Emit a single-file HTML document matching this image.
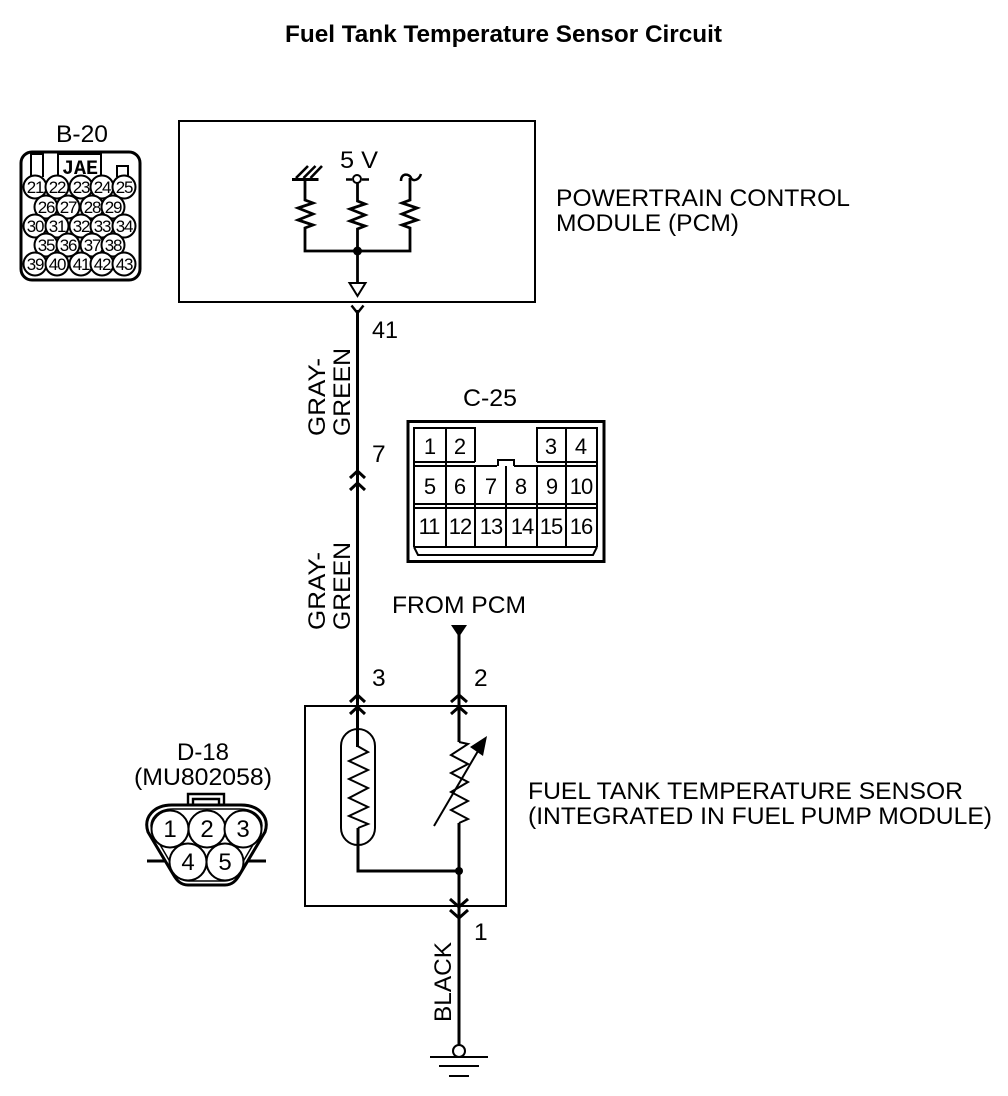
<!DOCTYPE html>
<html><head><meta charset="utf-8"><style>
html,body{margin:0;padding:0;background:#fff}
svg{display:block}
text{font-family:"Liberation Sans",sans-serif;fill:#000}
.t{font-size:24.5px}
.n{font-size:22px;text-anchor:middle}
.s{font-size:17px;text-anchor:middle;letter-spacing:-1.2px}
.l{fill:none;stroke:#000;stroke-width:2}
.w{fill:none;stroke:#000;stroke-width:3}
</style></head><body>
<svg width="1008" height="1096" viewBox="0 0 1008 1096" xmlns="http://www.w3.org/2000/svg">
<text x="285" y="42" font-size="24" font-weight="bold" textLength="437" lengthAdjust="spacingAndGlyphs">Fuel Tank Temperature Sensor Circuit</text>

<!-- B-20 -->
<text x="82" y="142" class="t" text-anchor="middle" textLength="52" lengthAdjust="spacingAndGlyphs">B-20</text>
<rect x="21" y="152" width="119" height="128" rx="11" class="w"/>
<path d="M31 177V154H43V177M58 177V154H101V177M117 177V166H128V177" class="l"/>
<text x="80" y="174" font-weight="bold" font-size="20" text-anchor="middle" style="font-family:'Liberation Mono',monospace">JAE</text>
<g fill="#fff" stroke="#000" stroke-width="2">
<circle cx="35" cy="187" r="11.500"/><circle cx="57" cy="187" r="11.500"/><circle cx="81" cy="187" r="11.500"/><circle cx="102" cy="187" r="11.500"/><circle cx="124" cy="187" r="11.500"/>
<circle cx="46" cy="207" r="11.500"/><circle cx="68" cy="207" r="11.500"/><circle cx="92" cy="207" r="11.500"/><circle cx="113" cy="207" r="11.500"/>
<circle cx="35" cy="226" r="11.500"/><circle cx="57" cy="226" r="11.500"/><circle cx="81" cy="226" r="11.500"/><circle cx="102" cy="226" r="11.500"/><circle cx="124" cy="226" r="11.500"/>
<circle cx="46" cy="245" r="11.500"/><circle cx="68" cy="245" r="11.500"/><circle cx="92" cy="245" r="11.500"/><circle cx="113" cy="245" r="11.500"/>
<circle cx="35" cy="264" r="11.500"/><circle cx="57" cy="264" r="11.500"/><circle cx="81" cy="264" r="11.500"/><circle cx="102" cy="264" r="11.500"/><circle cx="124" cy="264" r="11.500"/>
</g>
<g>
<text class="s" x="35" y="193">21</text><text class="s" x="57" y="193">22</text><text class="s" x="81" y="193">23</text><text class="s" x="102" y="193">24</text><text class="s" x="124" y="193">25</text>
<text class="s" x="46" y="213">26</text><text class="s" x="68" y="213">27</text><text class="s" x="92" y="213">28</text><text class="s" x="113" y="213">29</text>
<text class="s" x="35" y="232">30</text><text class="s" x="57" y="232">31</text><text class="s" x="81" y="232">32</text><text class="s" x="102" y="232">33</text><text class="s" x="124" y="232">34</text>
<text class="s" x="46" y="251">35</text><text class="s" x="68" y="251">36</text><text class="s" x="92" y="251">37</text><text class="s" x="113" y="251">38</text>
<text class="s" x="35" y="270">39</text><text class="s" x="57" y="270">40</text><text class="s" x="81" y="270">41</text><text class="s" x="102" y="270">42</text><text class="s" x="124" y="270">43</text>
</g>

<!-- PCM -->
<rect x="179" y="121" width="356" height="181" class="l"/>
<text x="340" y="168" class="t" textLength="38" lengthAdjust="spacingAndGlyphs">5 V</text>
<text x="556" y="206" class="t" textLength="294" lengthAdjust="spacingAndGlyphs">POWERTRAIN CONTROL</text>
<text x="556" y="231" class="t" textLength="183" lengthAdjust="spacingAndGlyphs">MODULE (PCM)</text>
<path d="M292 179.500H318.500" class="w"/>
<path d="M296 178L308 166M303.500 178L315.500 166M310.500 178L322 166" class="w" style="stroke-width:2.600"/>
<path d="M346 179.500H352M362 179.500H369" class="w" style="stroke-width:2.500"/>
<circle cx="357" cy="179" r="4" class="l"/>
<path d="M401 181C401 172 410 174 411 178C413 182 419 180 421 174" class="l" style="stroke-width:2.500"/>
<path d="M305 180V200L313 203L298 208L313 214L298 220L313 225L305 228V251H410V228L402 225L417 220L402 214L417 208L402 203L410 200V178" class="w" style="stroke-width:2.800"/>
<path d="M357.500 183V201L365 204L350 209L365 215L350 221L365 226L357.500 229V283" class="w" style="stroke-width:2.800"/>
<circle cx="357.500" cy="251" r="4.500"/>
<path d="M349.500 283H365.500L357.500 296Z" class="l"/>

<!-- main left wire -->
<path d="M351.500 305.500L357.500 313L363.500 305.500" class="w" style="stroke-width:2.500"/>
<path d="M357.500 310V747" class="w"/>
<text x="372" y="338" class="t" textLength="26" lengthAdjust="spacingAndGlyphs">41</text>
<text x="372" y="462" class="t">7</text>
<path d="M350 478L357.500 471L365 478M350 490L357.500 483L365 490" class="w"/>
<text transform="translate(325,436) rotate(-90)" class="t" textLength="78" lengthAdjust="spacingAndGlyphs">GRAY-</text>
<text transform="translate(350,436) rotate(-90)" class="t" textLength="88" lengthAdjust="spacingAndGlyphs">GREEN</text>
<text transform="translate(325,630) rotate(-90)" class="t" textLength="78" lengthAdjust="spacingAndGlyphs">GRAY-</text>
<text transform="translate(350,630) rotate(-90)" class="t" textLength="88" lengthAdjust="spacingAndGlyphs">GREEN</text>

<!-- C-25 -->
<text x="490" y="406" class="t" text-anchor="middle" textLength="54" lengthAdjust="spacingAndGlyphs">C-25</text>
<rect x="408" y="421.500" width="196" height="140" class="w"/>
<path d="M414 547V428H475V462M446 428V547M537 462V428H597V547M566 428V547M475 466V547M506 466V547M537 466V547M414 462H475M537 462H597M414 466H497M514 466H597M414 504H597M414 508H597M414 547H597M498 466V460H514V466" class="l"/>
<path d="M414 547L418 555H593L597 547" class="l"/>
<text class="n" x="430" y="454">1</text><text class="n" x="460" y="454">2</text><text class="n" x="551" y="454">3</text><text class="n" x="581" y="454">4</text>
<text class="n" x="430" y="494">5</text><text class="n" x="460" y="494">6</text><text class="n" x="491" y="494">7</text><text class="n" x="521" y="494">8</text><text class="n" x="552" y="494">9</text><text class="n" x="581" y="494" style="letter-spacing:-1px">10</text>
<text class="n" x="429" y="534" style="letter-spacing:-1px">11</text><text class="n" x="460" y="534" style="letter-spacing:-1px">12</text><text class="n" x="491" y="534" style="letter-spacing:-1px">13</text><text class="n" x="522" y="534" style="letter-spacing:-1px">14</text><text class="n" x="551" y="534" style="letter-spacing:-1px">15</text><text class="n" x="581" y="534" style="letter-spacing:-1px">16</text>

<!-- FROM PCM -->
<text x="392" y="613" class="t" textLength="134" lengthAdjust="spacingAndGlyphs">FROM PCM</text>
<path d="M451 625H467L459 637Z"/>
<path d="M459 630V742" class="w"/>
<text x="372" y="686" class="t">3</text>
<text x="474" y="686" class="t">2</text>
<path d="M350 702L357.500 695L365 702M350 714L357.500 707L365 714M451 702L459 695L467 702M451 714L459 707L467 714" class="w"/>

<!-- Sensor box -->
<rect x="305" y="706" width="201" height="200" class="l"/>
<rect x="341" y="729" width="34" height="116" rx="17" class="l"/>
<path d="M357.500 746L368 752L349 761L368 770L349 779L368 788L349 798L368 807L349 816L368 824L358 828" class="l"/>
<path d="M358 828V871H459" class="w"/>
<path d="M459 742L468 744L451 755L468 764L451 773L468 782L451 792L468 801L451 810L468 819L459 823" class="l"/>
<path d="M459 823V918" class="w"/>
<circle cx="459" cy="871" r="4"/>
<path d="M434 826L478 751" class="l"/>
<path d="M487 736L483 756L470 747Z"/>
<path d="M450 899L459 907L468 899M450 910L459 918L468 910" class="w"/>
<text x="528" y="799" class="t" textLength="435" lengthAdjust="spacingAndGlyphs">FUEL TANK TEMPERATURE SENSOR</text>
<text x="528" y="824" class="t" textLength="464" lengthAdjust="spacingAndGlyphs">(INTEGRATED IN FUEL PUMP MODULE)</text>

<!-- D-18 -->
<text x="203" y="760" class="t" text-anchor="middle" textLength="52" lengthAdjust="spacingAndGlyphs">D-18</text>
<text x="203" y="785" class="t" text-anchor="middle" textLength="138" lengthAdjust="spacingAndGlyphs">(MU802058)</text>
<path d="M188 805V794H224V805M193 805V799H219V805" class="w" style="stroke-width:2.400"/>
<path d="M147 861H166M248 861H266" class="w"/>
<path d="M172 805H241C259 805 270 817 265 832L240 874C236 881 232 885 225 885H188C181 885 177 881 173 874L148 832C143 817 154 805 172 805Z" fill="#fff" stroke="#000" stroke-width="3"/>
<path d="M173 809H240C255 809 265 819 261 831L237 872C233 879 230 881 224 881H189C183 881 180 879 176 872L152 831C148 819 158 809 173 809Z" fill="none" stroke="#000" stroke-width="1.500"/>
<g fill="#fff" stroke="#000" stroke-width="2">
<circle cx="170" cy="829" r="18.500"/><circle cx="207" cy="829" r="18.500"/><circle cx="243" cy="829" r="18.500"/>
<circle cx="188" cy="862" r="18.500"/><circle cx="225" cy="862" r="18.500"/>
</g>
<text class="n" x="170" y="837" style="font-size:24px">1</text><text class="n" x="207" y="837" style="font-size:24px">2</text><text class="n" x="243" y="837" style="font-size:24px">3</text>
<text class="n" x="188" y="870" style="font-size:24px">4</text><text class="n" x="225" y="870" style="font-size:24px">5</text>

<!-- Ground -->
<text x="474" y="940" class="t">1</text>
<text transform="translate(451,1022) rotate(-90)" class="t" textLength="80" lengthAdjust="spacingAndGlyphs">BLACK</text>
<path d="M459 918V1046" class="w"/>
<circle cx="459" cy="1051" r="6" class="l"/>
<path d="M430 1057H488" class="l"/>
<path d="M439 1066H479" class="l"/>
<path d="M449 1076H469" class="l"/>
</svg>
</body></html>
